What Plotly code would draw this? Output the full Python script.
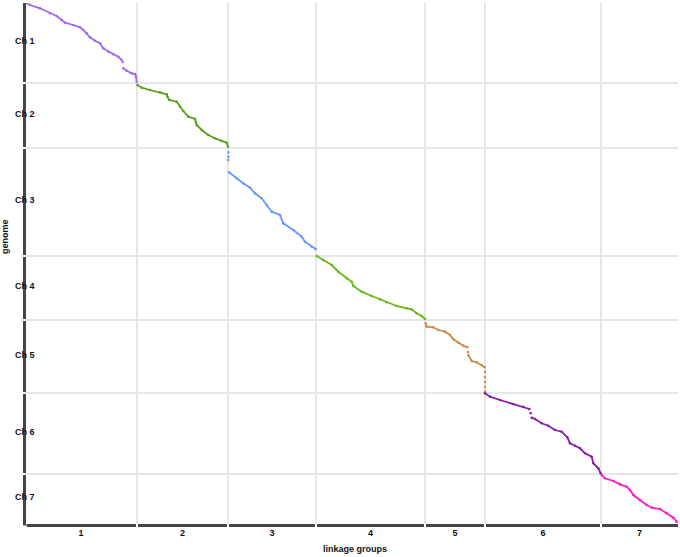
import plotly.graph_objects as go

# ---------------- data ----------------
lg_names = ["1", "2", "3", "4", "5", "6", "7"]
lg_len_cM = [112, 91, 88, 109, 60, 116, 77]          # linkage group lengths
ch_names = ["Ch 1", "Ch 2", "Ch 3", "Ch 4", "Ch 5", "Ch 6", "Ch 7"]
ch_len_Mb = [80, 65, 108, 64, 73, 81, 50]            # chromosome lengths

# marker positions: cM within linkage group, Mb within chromosome (None = gap)
lg1_cM = [1, 5, 15, 25, 31.7, 36.7, 40, 48.3, 55, 58.3, 61.7, 65, 70, 75, 78.3, 83.3, 88.3, 93.3, 96.7, None,
          97.7, None, 98.3, 101.7, 106.7, 110, 111, 111.7]
lg1_Mb = [0, 2, 5.3, 10.3, 13, 17, 19.7, 22, 24.3, 27, 30.3, 34.3, 37.7, 40.3, 45.3, 48.7, 51.3, 53.7, 57, None,
          59, None, 65.3, 67.7, 70.3, 71, 73.7, 78.7]

lg2_cM = [0.3, 4.7, 13, 23, 29.7, 30.5, 32.3, 39.7, 43, 46.3, 51.3, 58, 58.8,
          59.7, 64.7, 71.3, 78, 84.7, 89.7, 91]
lg2_Mb = [2, 4.7, 7, 9.3, 11.3, 14, 17, 18.7, 23.7, 28, 33.7, 36, 39,
          42, 47, 52, 55.3, 58, 59.7, 63.7]

lg3_cM = [0.3, None, 0.3, None, 0.3, None, 1, 8.7, 15.3, 22, 27, 33.7, 38.7, 43.7, 52, 55.3, 65.3, 73.7, 77,
          83.7, 87.7]
lg3_Mb = [4.3, None, 8.7, None, 12, None, 24.3, 30.3, 35.3, 39.7, 45.3, 50.3, 57, 63.7, 67, 75.3, 82, 88.7, 93.7,
          98.7, 101]

lg4_cM = [0.7, 7.3, 15.7, 22.3, 30.7, 35.7, 37.3, 45.7, 55.7, 64, 70.7, 80.7, 90.7, 95.7, 100.7, 105.7, 109]
lg4_Mb = [0, 4, 9, 15.7, 22.3, 25.7, 30, 35.7, 40, 43.3, 46.3, 50, 52.3, 53.3, 57.3, 60, 63]

lg5_cM = [0.7, 1.7, 8.3, 13.3, 20, 25, 28.3, 33.3, 38.3, 42.3, None, 43, None, 43.3, 46.7, 51.7, 56.7, 59.7, None,
          60, None, 60, None, 60, None, 60, None, 60]
lg5_Mb = [3.3, 6.7, 7.3, 10, 11.7, 15, 19.3, 22.7, 25.7, 27.3, None, 32, None, 35, 41, 42.3, 45, 47.3, None,
          52, None, 57, None, 62, None, 67, None, 71.5]

lg6_cM = [0, 5, 15, 28.3, 38.3, 44.3, None, 45.7, None, 46.7, 50, 56.7, 63.3, 70, 76.7, 82.3, 85, 90, 95, 100,
          106.7, 108.3, 113.3, 115.7]
lg6_Mb = [0.3, 3.7, 7, 11, 13.7, 16, None, 20.3, None, 24.7, 26, 30.3, 32.7, 37, 38.7, 44.3, 50.3, 52.7, 55.3,
          60.3, 63.7, 70.3, 75.3, 80.3]

lg7_cM = [0.7, 4, 12.3, 19, 25.7, 29, 32.3, 39, 45.7, 50.7, 59, 65.7, 72.3, 75.7]
lg7_Mb = [1, 4.3, 7, 10.3, 12.7, 16, 21, 26, 31, 33.7, 35, 39.3, 43.7, 47.7]

lg_colors = ["#9b6cf2", "#5c9e1e", "#6699ff", "#66b814", "#cc8a4e", "#8a1aab", "#ff1acb"]

# ---------------- derived offsets ----------------
def cumul(vals):
    out = [0]
    for v in vals:
        out.append(out[-1] + v)
    return out

x_off = cumul(lg_len_cM)
y_off = cumul(ch_len_Mb)
X_TOT, Y_TOT = x_off[-1], y_off[-1]

series = [(lg1_cM, lg1_Mb), (lg2_cM, lg2_Mb), (lg3_cM, lg3_Mb), (lg4_cM, lg4_Mb),
          (lg5_cM, lg5_Mb), (lg6_cM, lg6_Mb), (lg7_cM, lg7_Mb)]

fig = go.Figure()
for i, (xs, ys) in enumerate(series):
    gx = [None if v is None else v + x_off[i] for v in xs]
    gy = [None if v is None else v + y_off[i] for v in ys]
    fig.add_trace(go.Scatter(
        x=gx, y=gy, mode="lines+markers", name="LG " + lg_names[i],
        line=dict(color=lg_colors[i], width=1.8),
        marker=dict(color=lg_colors[i], size=2.5),
        connectgaps=False, showlegend=False, hoverinfo="x+y"))

W, H = 680, 557
ML, MR, MT, MB = 25, 2, 3, 33
pw, ph = W - ML - MR, H - MT - MB

font_b = dict(family="Liberation Sans, Arial, sans-serif", size=9, color="#111111", weight="bold")

x_mid = [(x_off[i] + x_off[i + 1]) / 2 for i in range(len(lg_len_cM))]
y_mid = [(y_off[i] + y_off[i + 1]) / 2 for i in range(len(ch_len_Mb))]

fig.update_layout(
    width=W, height=H, margin=dict(l=ML, r=MR, t=MT, b=MB, autoexpand=False),
    paper_bgcolor="white", plot_bgcolor="white",
    xaxis=dict(range=[0, X_TOT], showgrid=False, zeroline=False, showline=False,
               tickmode="array", tickvals=x_mid, ticktext=lg_names, ticks="",
               tickfont=font_b, ticklabelstandoff=2, automargin=False,
               minor=dict(tickmode="array", tickvals=x_off, showgrid=True,
                          gridcolor="#e6e6e6", gridwidth=1.5, ticks="")),
    yaxis=dict(range=[Y_TOT, 0], showgrid=False, zeroline=False, showline=False,
               tickmode="array", tickvals=y_off, showticklabels=False, ticks="", automargin=False,
               minor=dict(tickmode="array", tickvals=y_off, showgrid=True,
                          gridcolor="#e6e6e6", gridwidth=1.5, ticks="")),
)

# y category labels
for i, name in enumerate(ch_names):
    fig.add_annotation(x=(13 - ML) / pw, xref="paper", y=y_mid[i], yref="y",
                       text=name, showarrow=False, xanchor="left", yanchor="middle",
                       font=font_b, yshift=2)

# axis titles
fig.add_annotation(x=(5 - ML) / pw, xref="paper", y=1 - (237 - MT) / ph, yref="paper",
                   text="genome", textangle=-90, showarrow=False,
                   xanchor="center", yanchor="middle", font=font_b)
fig.add_annotation(x=(355 - ML) / pw, xref="paper", y=-(549 - MT - ph) / ph, yref="paper",
                   text="linkage groups", showarrow=False,
                   xanchor="center", yanchor="middle", font=font_b)

# segmented axis lines with small gaps at group boundaries
gx_px = 1.0 / pw
gy_px = 1.0 / ph
ax_col = "#444444"
yx = -0.5 / pw
for i in range(len(ch_len_Mb)):
    top = 1 - y_off[i] / Y_TOT
    bot = 1 - y_off[i + 1] / Y_TOT
    fig.add_shape(type="line", xref="paper", yref="paper", x0=yx, x1=yx,
                  y0=top - (gy_px if i > 0 else 0), y1=bot + (gy_px if i < len(ch_len_Mb) - 1 else -gy_px * 1.5),
                  line=dict(color=ax_col, width=3), layer="above")
xy = -1.5 / ph
for i in range(len(lg_len_cM)):
    l = x_off[i] / X_TOT
    r = x_off[i + 1] / X_TOT
    fig.add_shape(type="line", xref="paper", yref="paper",
                  x0=l + (gx_px if i > 0 else gx_px * 1.5), x1=r - (gx_px if i < len(lg_len_cM) - 1 else 0),
                  y0=xy, y1=xy, line=dict(color=ax_col, width=3), layer="above")

fig.write_html("out.html", config={"responsive": False, "displayModeBar": False},
               post_script="document.body.style.margin='0px';document.body.style.overflow='hidden';")
